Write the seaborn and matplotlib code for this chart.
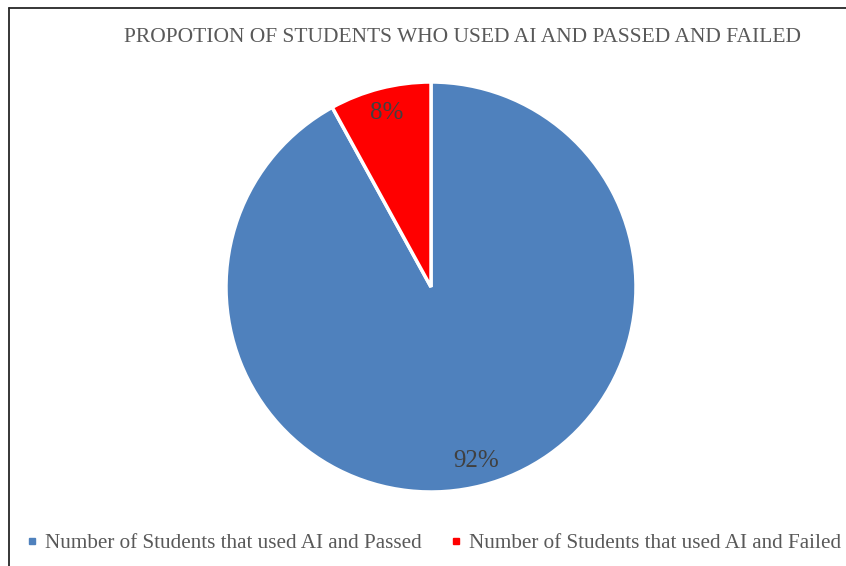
import matplotlib
matplotlib.use("Agg")
import matplotlib.pyplot as plt
from matplotlib.lines import Line2D
import seaborn as sns

sns.set_style("white")
plt.rcParams['font.family'] = ['Liberation Serif', 'DejaVu Serif']

categories = ["Number of Students that used AI and Passed",
              "Number of Students that used AI and Failed"]
values = [92, 8]
colors = ["#4F81BD", "#FF0000"]
title = "PROPOTION OF STUDENTS WHO USED AI AND PASSED AND FAILED"

W, H = 846, 566
fig = plt.figure(figsize=(W / 100, H / 100), dpi=100)

cx, cy, r = 431, 287, 205
ax = fig.add_axes([(cx - r) / W, (H - cy - r) / H, 2 * r / W, 2 * r / H])
wedges, texts, autotexts = ax.pie(
    values, colors=colors, startangle=90, counterclock=False, radius=1,
    autopct=lambda p: f"{p:.0f}%", pctdistance=0.877,
    wedgeprops=dict(edgecolor="white", linewidth=2.5),
    textprops=dict(color="#404040", fontsize=18))
for a in autotexts:
    a.set_va("center")
    a.set_ha("center")
ax.set_xlim(-1.0, 1.0)
ax.set_ylim(-1.0, 1.0)
ax.set_aspect("equal")
for w in wedges:
    w.set_clip_on(False)

fig.text(463 / W, 1 - 38 / H, title, ha="center", va="center",
         fontsize=15.5, color="#595959")

# frame border (top and left)
fig.add_artist(Line2D([9 / W, 1.0], [1 - 8 / H, 1 - 8 / H], color="#262626", lw=1.3,
                      transform=fig.transFigure))
fig.add_artist(Line2D([9 / W, 9 / W], [1 - 8 / H, 0.0], color="#262626", lw=1.3,
                      transform=fig.transFigure))

handles = [Line2D([], [], marker="s", linestyle="none", markersize=5,
                  markerfacecolor=c, markeredgecolor=c) for c in colors]
fig.legend(handles, categories, loc="center", bbox_to_anchor=(434 / W, 1 - 543 / H),
           ncol=2, frameon=False, fontsize=15.2, handlelength=0.5, handletextpad=0.35,
           columnspacing=1.4, labelcolor="#595959", borderaxespad=0, borderpad=0)

fig.savefig("out.png", dpi=100)
